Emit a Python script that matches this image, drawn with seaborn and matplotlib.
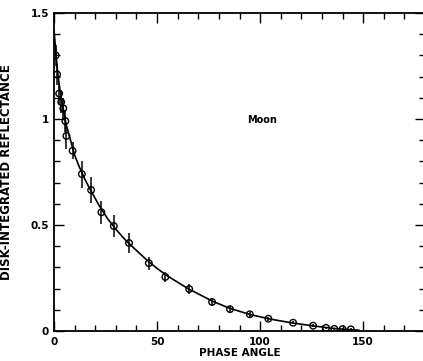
import matplotlib
matplotlib.use("Agg")
import matplotlib.pyplot as plt
import seaborn as sns
import pandas as pd
from matplotlib.ticker import MultipleLocator, FixedLocator, FixedFormatter

phase = [0.8, 1.5, 2.5, 3.5, 4.5, 5.5, 6.0, 9.0, 13.5, 18.0, 23.0, 29.0, 36.4,
         46.0, 54.0, 65.6, 76.7, 85.4, 95.0, 104.0, 116.0, 125.7, 132.0, 136.0,
         140.0, 144.0]
refl = [1.30, 1.21, 1.12, 1.08, 1.05, 0.99, 0.92, 0.85, 0.74, 0.665, 0.56,
        0.495, 0.415, 0.32, 0.255, 0.198, 0.137, 0.103, 0.079, 0.058, 0.039,
        0.025, 0.015, 0.010, 0.009, 0.008]
err = [0.05, 0.05, 0.05, 0.05, 0.05, 0.05, 0.06, 0.04, 0.064, 0.06, 0.055,
       0.05, 0.045, 0.03, 0.025, 0.025, 0.02, 0.015, 0.012, 0.01, 0.008,
       0.006, 0.005, 0.004, 0.004, 0.004]

# fitted curve
curve_x = [0, 1, 2, 3, 4, 5, 6, 8, 10, 12, 15, 18, 22, 26, 30, 35, 40, 45, 50,
           55, 60, 65, 70, 77, 85, 95, 105, 115, 125, 135, 142, 148]
curve_y = [1.42, 1.30, 1.20, 1.13, 1.07, 1.02, 0.97, 0.90, 0.83, 0.78, 0.715,
           0.66, 0.59, 0.53, 0.48, 0.425, 0.38, 0.335, 0.295, 0.26, 0.23, 0.20,
           0.175, 0.14, 0.108, 0.078, 0.056, 0.039, 0.025, 0.013, 0.007, 0.004]

ytick_vals = [0, 0.5, 1, 1.5]
ytick_labels = ["0", "0.5", "1", "1.5"]
xtick_vals = [0, 50, 100, 150]

pts = pd.DataFrame({"phase": phase, "refl": refl, "err": err})
fit = pd.DataFrame({"phase": curve_x, "refl": curve_y})

sns.set_style("ticks")
plt.rcParams["font.family"] = ["DejaVu Sans"]
plt.rcParams["font.weight"] = "bold"
for k in ["text.color", "axes.labelcolor", "xtick.color", "ytick.color",
          "axes.edgecolor"]:
    plt.rcParams[k] = "black"

fig = plt.figure(figsize=(4.23, 3.61), dpi=100)
ax = fig.add_axes([0.1277, 0.0831, 0.877, 0.881])

sns.lineplot(data=fit, x="phase", y="refl", color="black", linewidth=1.2, ax=ax)
ax.errorbar(pts["phase"], pts["refl"], yerr=pts["err"], fmt="none",
            ecolor="black", elinewidth=1.1, capsize=0)
sns.scatterplot(data=pts, x="phase", y="refl", marker="o", s=22,
                facecolor="none", edgecolor="black", linewidth=1.0, ax=ax,
                zorder=5)

ax.set_xlim(0, 180)
ax.set_ylim(0, 1.5)
ax.xaxis.set_major_locator(FixedLocator(xtick_vals))
ax.xaxis.set_minor_locator(MultipleLocator(10))
ax.yaxis.set_major_locator(FixedLocator(ytick_vals))
ax.yaxis.set_major_formatter(FixedFormatter(ytick_labels))
ax.yaxis.set_minor_locator(MultipleLocator(0.1))
ax.tick_params(which="both", direction="in", top=True, right=True,
               labelsize=7.5, width=1.0, color="black")
ax.tick_params(which="major", length=7)
ax.tick_params(which="minor", length=4)
ax.tick_params(axis="x", pad=4)

for s in ["left", "bottom", "top"]:
    ax.spines[s].set_linewidth(1.3)
ax.spines["right"].set_visible(False)

ax.set_xlabel("PHASE ANGLE", fontsize=7.5, fontweight="bold", labelpad=1)
ax.set_ylabel("DISK-INTEGRATED REFLECTANCE", fontsize=8.5, fontweight="bold",
              labelpad=13)
ax.text(101, 0.995, "Moon", fontsize=7, fontweight="bold", ha="center",
        va="center")

fig.savefig("out.png", dpi=100)
